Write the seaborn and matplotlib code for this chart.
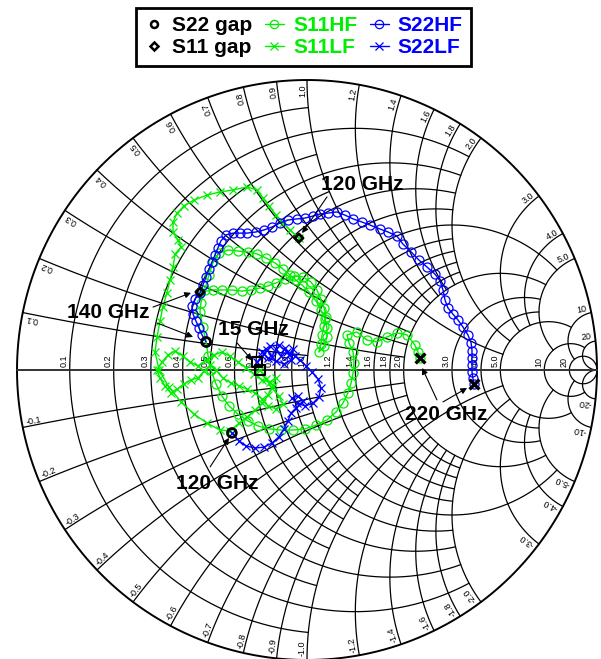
import numpy as np
import pandas as pd
import matplotlib
matplotlib.use("Agg")
import matplotlib.pyplot as plt
import seaborn as sns
from matplotlib.lines import Line2D

# ---- measured reflection coefficients (real, imag) ----
s22hf_re = [-0.348, -0.362, -0.372, -0.383, -0.393, -0.397, -0.386, -0.369, -0.359, -0.348,
            -0.338, -0.328, -0.317, -0.307, -0.297, -0.279, -0.255, -0.231, -0.207, -0.176,
            -0.148, -0.121, -0.093, -0.066, -0.034, -0.007, 0.021, 0.045, 0.072, 0.103,
            0.131, 0.159, 0.190, 0.217, 0.252, 0.279, 0.310, 0.331, 0.359, 0.386,
            0.414, 0.441, 0.459, 0.469, 0.476, 0.486, 0.503, 0.521, 0.538, 0.555,
            0.566, 0.569, 0.569, 0.569, 0.569, 0.572, 0.576]
s22hf_im = [0.097, 0.121, 0.145, 0.169, 0.193, 0.221, 0.245, 0.266, 0.293, 0.321,
            0.348, 0.372, 0.397, 0.421, 0.445, 0.466, 0.472, 0.472, 0.472, 0.476,
            0.483, 0.493, 0.507, 0.517, 0.521, 0.524, 0.531, 0.538, 0.541, 0.545,
            0.534, 0.521, 0.510, 0.500, 0.486, 0.476, 0.462, 0.434, 0.407, 0.379,
            0.355, 0.331, 0.307, 0.276, 0.241, 0.214, 0.193, 0.172, 0.148, 0.121,
            0.093, 0.066, 0.041, 0.017, -0.007, -0.028, -0.048]

s11hf_re = [-0.369, -0.324, -0.293, -0.259, -0.224, -0.193, -0.162, -0.134, -0.107, -0.076,
            -0.045, -0.014, 0.014, 0.034, 0.048, 0.059, 0.066, 0.059, 0.052, 0.048,
            0.041, 0.059, 0.069, 0.069, 0.062, 0.048, 0.031, 0.007, -0.017, -0.038,
            -0.059, -0.083, -0.110, -0.141, -0.172, -0.203, -0.238, -0.272, -0.303, -0.324,
            -0.338, -0.352, -0.366, -0.369, -0.359, -0.348, -0.341, -0.331, -0.314, -0.293,
            -0.269, -0.238, -0.203, -0.169, -0.131, -0.090, -0.048, -0.007, 0.031, 0.069,
            0.100, 0.124, 0.141, 0.152, 0.159, 0.162, 0.159, 0.145, 0.138, 0.172,
            0.207, 0.241, 0.276, 0.310, 0.345, 0.372, 0.383, 0.390]
s11hf_im = [0.269, 0.276, 0.276, 0.276, 0.272, 0.276, 0.283, 0.290, 0.300, 0.314,
            0.324, 0.321, 0.303, 0.276, 0.245, 0.214, 0.183, 0.152, 0.121, 0.090,
            0.062, 0.083, 0.114, 0.145, 0.176, 0.207, 0.238, 0.269, 0.293, 0.310,
            0.328, 0.348, 0.369, 0.386, 0.400, 0.407, 0.410, 0.414, 0.403, 0.372,
            0.328, 0.276, 0.231, 0.200, 0.148, 0.097, 0.048, 0.000, -0.048, -0.090,
            -0.124, -0.152, -0.176, -0.193, -0.203, -0.207, -0.207, -0.203, -0.190, -0.172,
            -0.145, -0.114, -0.079, -0.045, -0.010, 0.024, 0.062, 0.093, 0.121, 0.131,
            0.103, 0.097, 0.114, 0.128, 0.121, 0.086, 0.062, 0.041]

s11lf_re = [-0.162, -0.141, -0.121, -0.097, -0.083, -0.107, -0.134, -0.155, -0.179, -0.207,
            -0.234, -0.262, -0.290, -0.314, -0.334, -0.355, -0.376, -0.400, -0.424, -0.448,
            -0.469, -0.490, -0.507, -0.517, -0.500, -0.479, -0.455, -0.428, -0.403, -0.376,
            -0.348, -0.321, -0.293, -0.266, -0.238, -0.210, -0.183, -0.155, -0.128, -0.107,
            -0.117, -0.134, -0.155, -0.179, -0.207, -0.234, -0.266, -0.300, -0.345, -0.390,
            -0.434, -0.476, -0.510, -0.524, -0.517, -0.507, -0.497, -0.483, -0.472, -0.462,
            -0.455, -0.434, -0.445, -0.462, -0.462, -0.448, -0.424, -0.390, -0.345, -0.300,
            -0.255, -0.207, -0.172, -0.152, -0.131, -0.107, -0.083, -0.059, -0.028]
s11lf_im = [0.000, -0.031, -0.062, -0.090, -0.117, -0.134, -0.124, -0.100, -0.079, -0.066,
            -0.055, -0.045, -0.028, 0.000, 0.017, -0.003, -0.028, -0.034, -0.048, -0.066,
            -0.079, -0.055, -0.028, 0.000, 0.028, 0.052, 0.066, 0.048, 0.028, 0.014,
            0.034, 0.052, 0.062, 0.048, 0.028, 0.007, -0.014, -0.034, -0.041, -0.028,
            -0.055, -0.086, -0.114, -0.138, -0.162, -0.183, -0.210, -0.207, -0.183, -0.152,
            -0.110, -0.059, 0.000, 0.062, 0.114, 0.169, 0.217, 0.266, 0.310, 0.355,
            0.400, 0.424, 0.448, 0.476, 0.510, 0.541, 0.566, 0.586, 0.603, 0.614,
            0.621, 0.631, 0.621, 0.593, 0.566, 0.534, 0.507, 0.483, 0.455]

s22lf_re = [-0.172, -0.155, -0.138, -0.121, -0.107, -0.090, -0.076, -0.062, -0.048, -0.055,
            -0.079, -0.107, -0.134, -0.155, -0.128, -0.097, -0.069, -0.041, -0.024, -0.003,
            0.017, 0.038, 0.048, 0.041, 0.021, -0.007, -0.034, -0.052, -0.031, -0.014,
            -0.038, -0.055, -0.066, -0.079, -0.097, -0.121, -0.148, -0.179, -0.210, -0.234,
            -0.259]
s22lf_im = [0.028, 0.048, 0.069, 0.045, 0.072, 0.048, 0.076, 0.052, 0.072, 0.034,
            0.021, 0.031, 0.041, 0.062, 0.083, 0.086, 0.062, 0.048, 0.034, 0.014,
            -0.007, -0.031, -0.062, -0.093, -0.114, -0.124, -0.114, -0.097, -0.090, -0.107,
            -0.131, -0.148, -0.176, -0.203, -0.231, -0.252, -0.266, -0.269, -0.262, -0.245,
            -0.217]

# Smith grid: (value, limit of the orthogonal coordinate)
r_grid = [(0.1, 1), (0.2, 2), (0.3, 1), (0.4, 2), (0.5, 1), (0.6, 2), (0.7, 1), (0.8, 2),
          (0.9, 1), (1.0, 5), (1.2, 2), (1.4, 2), (1.6, 2), (1.8, 2), (2.0, 5),
          (3.0, 5), (4.0, 5), (5.0, 10), (10.0, 20), (20.0, np.inf)]
x_grid = r_grid
grid_labels = ["0.1", "0.2", "0.3", "0.4", "0.5", "0.6", "0.7", "0.8", "0.9", "1.0",
               "1.2", "1.4", "1.6", "1.8", "2.0", "3.0", "4.0", "5.0", "10", "20"]

GREEN = "#00ee00"
BLUE = "#0000ff"


def gamma(z):
    return (z - 1) / (z + 1)


def r_arc(r, xmax):
    t = np.linspace(-np.arctan(xmax), np.arctan(xmax), 800)
    t = np.clip(t, -np.pi / 2 + 1e-7, np.pi / 2 - 1e-7)
    return gamma(r + 1j * np.tan(t))


def x_arc(x, rmax):
    t = np.linspace(0, min(np.arctan(rmax), np.pi / 2 - 1e-7), 800)
    return gamma(np.tan(t) + 1j * x)


sns.set_theme(style="white")
plt.rcParams["font.family"] = ["Liberation Sans", "DejaVu Sans"]

fig = plt.figure(figsize=(6.01, 6.59), dpi=100)
ax = fig.add_axes([0, 0, 1, 1])

# grid arcs
for r, lim in r_grid:
    g = r_arc(r, lim)
    ax.plot(g.real, g.imag, color="black", lw=0.9, zorder=1)
for x, lim in x_grid:
    for s in (1, -1):
        g = x_arc(s * x, lim)
        ax.plot(g.real, g.imag, color="black", lw=0.9, zorder=1)

# outer rim and real axis
th = np.linspace(0, 2 * np.pi, 1000)
ax.plot(np.cos(th), np.sin(th), color="black", lw=1.4, zorder=1)
ax.plot([-1, 1], [0, 0], color="#333333", lw=1.4, zorder=1)

# resistance labels along the real axis
for (r, _), lab in zip(r_grid, grid_labels):
    g0 = (r - 1) / (r + 1)
    ax.text(g0 - 0.004, 0.012, lab, rotation=90, rotation_mode="anchor",
            ha="left", va="bottom", fontsize=6.5, color="black", zorder=2)

# reactance labels around the rim
for (x, _), lab in zip(x_grid, grid_labels):
    for s in (1, -1):
        g = gamma(1j * s * x)
        ang = np.angle(g)
        p = 0.986 * np.exp(1j * ang)
        if s > 0:
            ax.text(p.real, p.imag, lab, rotation=np.degrees(ang), rotation_mode="anchor",
                    ha="right", va="bottom", fontsize=6.5, color="black", zorder=2)
        else:
            ax.text(p.real, p.imag, "-" + lab, rotation=np.degrees(ang) + 180,
                    rotation_mode="anchor", ha="left", va="bottom", fontsize=6.5,
                    color="black", zorder=2)

# traces
traces = [
    (s11lf_re, s11lf_im, GREEN, "x"),
    (s11hf_re, s11hf_im, GREEN, "o"),
    (s22lf_re, s22lf_im, BLUE, "x"),
    (s22hf_re, s22hf_im, BLUE, "o"),
]
for re_, im_, col, mk in traces:
    df = pd.DataFrame({"re": re_, "im": im_})
    sns.lineplot(data=df, x="re", y="im", sort=False, estimator=None, ax=ax,
                 color=col, lw=1.0, marker=mk, markersize=6.5 if mk == "o" else 6,
                 markerfacecolor="none", markeredgecolor=col, markeredgewidth=0.9,
                 zorder=3)

# band-edge markers taken from the trace ends
s22_gap = pd.DataFrame({"re": [s22lf_re[-1], s22hf_re[0]], "im": [s22lf_im[-1], s22hf_im[0]]})
s11_gap = pd.DataFrame({"re": [s11lf_re[-1], s11hf_re[0]], "im": [s11lf_im[-1], s11hf_im[0]]})
start15 = pd.DataFrame({"re": [s22lf_re[0], s11lf_re[0]], "im": [s22lf_im[0], s11lf_im[0]]})
end220 = pd.DataFrame({"re": [s11hf_re[-1], s22hf_re[-1]], "im": [s11hf_im[-1], s22hf_im[-1]]})

sns.scatterplot(data=s22_gap, x="re", y="im", ax=ax, marker="o", s=40,
                facecolor="none", edgecolor="black", linewidth=2, zorder=5)
sns.scatterplot(data=s11_gap, x="re", y="im", ax=ax, marker="D", s=18,
                facecolor="none", edgecolor="black", linewidth=2, zorder=5)
sns.scatterplot(data=start15, x="re", y="im", ax=ax, marker="s", s=45,
                facecolor="none", edgecolor="black", linewidth=1.5, zorder=5)
sns.scatterplot(data=end220, x="re", y="im", ax=ax, marker="x", s=50,
                color="black", linewidth=2.4, zorder=5)

# frequency annotations
arrow = dict(arrowstyle="-|>", color="black", lw=0.8, mutation_scale=9,
             shrinkA=0, shrinkB=0)
txt = dict(fontsize=15, fontweight="bold", ha="center", va="center", color="black", zorder=6)
ax.text(0.190, 0.641, "120 GHz", **txt)
ax.text(-0.686, 0.200, "140 GHz", **txt)
ax.text(-0.183, 0.138, "15 GHz", **txt)
ax.text(-0.310, -0.393, "120 GHz", **txt)
ax.text(0.479, -0.155, "220 GHz", **txt)
for tail, head in [((0.069, 0.597), (-0.017, 0.472)),
                   ((-0.531, 0.217), (-0.400, 0.266)),
                   ((-0.517, 0.162), (-0.393, 0.114)),
                   ((-0.241, 0.093), (-0.190, 0.034)),
                   ((-0.334, -0.334), (-0.269, -0.234)),
                   ((0.448, -0.103), (0.397, 0.007)),
                   ((0.469, -0.110), (0.552, -0.062))]:
    ax.annotate("", xy=head, xytext=tail, arrowprops=arrow, zorder=6)

# legend
handles = [
    Line2D([], [], ls="none", marker="o", ms=5, mfc="none", mec="black", mew=1.8),
    Line2D([], [], ls="none", marker="D", ms=4, mfc="none", mec="black", mew=1.8),
    Line2D([], [], color=GREEN, lw=1, marker="o", ms=6, mfc="none", mec=GREEN, mew=0.9),
    Line2D([], [], color=GREEN, lw=1, marker="x", ms=6, mec=GREEN, mew=0.9),
    Line2D([], [], color=BLUE, lw=1, marker="o", ms=6, mfc="none", mec=BLUE, mew=0.9),
    Line2D([], [], color=BLUE, lw=1, marker="x", ms=6, mec=BLUE, mew=0.9),
]
labels = ["S22 gap", "S11 gap", "S11HF", "S11LF", "S22HF", "S22LF"]
leg = ax.legend(handles, labels, ncol=3, loc="upper center", bbox_to_anchor=(0.505, 0.988),
                frameon=True, fancybox=False, edgecolor="black", framealpha=1,
                prop={"size": 15, "weight": "bold"}, labelcolor=["black", "black", GREEN, GREEN, BLUE, BLUE],
                handlelength=0.9, handletextpad=0.45, columnspacing=0.6, labelspacing=0.15,
                borderpad=0.4, borderaxespad=0)
leg.get_frame().set_linewidth(2)

ax.set_xlim((0 - 307) / 290, (601 - 307) / 290)
ax.set_ylim((370 - 659) / 290, 370 / 290)
ax.axis("off")

fig.savefig("out.png", dpi=100)
